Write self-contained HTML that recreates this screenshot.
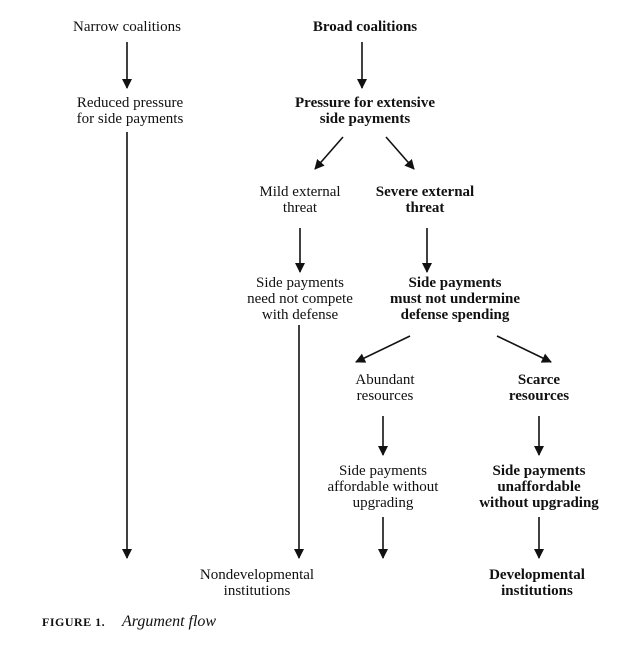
<!DOCTYPE html>
<html><head><meta charset="utf-8"><style>
html,body{margin:0;padding:0;background:#fff;}
svg{display:block;}
text{font-family:"Liberation Serif",serif;font-size:15px;fill:#111;text-anchor:middle;}
.b{font-weight:bold;}
</style></head><body>
<svg width="643" height="658" viewBox="0 0 643 658" xmlns="http://www.w3.org/2000/svg">
<defs><marker id="a" markerWidth="10" markerHeight="10" refX="9" refY="5" orient="auto" markerUnits="userSpaceOnUse"><path d="M0,0 L10,5 L0,10 z" fill="#111"/></marker></defs>
<g stroke="#111" stroke-width="1.6" marker-end="url(#a)">
<line x1="127" y1="42" x2="127" y2="88"/>
<line x1="362" y1="42" x2="362" y2="88"/>
<line x1="127" y1="132" x2="127" y2="558"/>
<line x1="343" y1="137" x2="315" y2="169"/>
<line x1="386" y1="137" x2="414" y2="169"/>
<line x1="300" y1="228" x2="300" y2="272"/>
<line x1="427" y1="228" x2="427" y2="272"/>
<line x1="299" y1="325" x2="299" y2="558"/>
<line x1="410" y1="336" x2="356" y2="362"/>
<line x1="497" y1="336" x2="551" y2="362"/>
<line x1="383" y1="416" x2="383" y2="455"/>
<line x1="539" y1="416" x2="539" y2="455"/>
<line x1="383" y1="517" x2="383" y2="558"/>
<line x1="539" y1="517" x2="539" y2="558"/>
</g>
<text x="127" y="31">Narrow coalitions</text>
<text x="365" y="31" class="b">Broad coalitions</text>
<text x="130" y="107">Reduced pressure</text>
<text x="130" y="123">for side payments</text>
<text x="365" y="107" class="b">Pressure for extensive</text>
<text x="365" y="123" class="b">side payments</text>
<text x="300" y="196">Mild external</text>
<text x="300" y="212">threat</text>
<text x="425" y="196" class="b">Severe external</text>
<text x="425" y="212" class="b">threat</text>
<text x="300" y="287">Side payments</text>
<text x="300" y="303">need not compete</text>
<text x="300" y="319">with defense</text>
<text x="455" y="287" class="b">Side payments</text>
<text x="455" y="303" class="b">must not undermine</text>
<text x="455" y="319" class="b">defense spending</text>
<text x="385" y="384">Abundant</text>
<text x="385" y="400">resources</text>
<text x="539" y="384" class="b">Scarce</text>
<text x="539" y="400" class="b">resources</text>
<text x="383" y="475">Side payments</text>
<text x="383" y="491">affordable without</text>
<text x="383" y="507">upgrading</text>
<text x="539" y="475" class="b">Side payments</text>
<text x="539" y="491" class="b">unaffordable</text>
<text x="539" y="507" class="b">without upgrading</text>
<text x="257" y="579">Nondevelopmental</text>
<text x="257" y="595">institutions</text>
<text x="537" y="579" class="b">Developmental</text>
<text x="537" y="595" class="b">institutions</text>
<text x="42" y="626" style="text-anchor:start;font-size:12px;font-weight:bold;letter-spacing:0.5px">FIGURE 1.</text>
<text x="122" y="626" style="text-anchor:start;font-style:italic;font-size:16px">Argument flow</text>
</svg>
</body></html>
